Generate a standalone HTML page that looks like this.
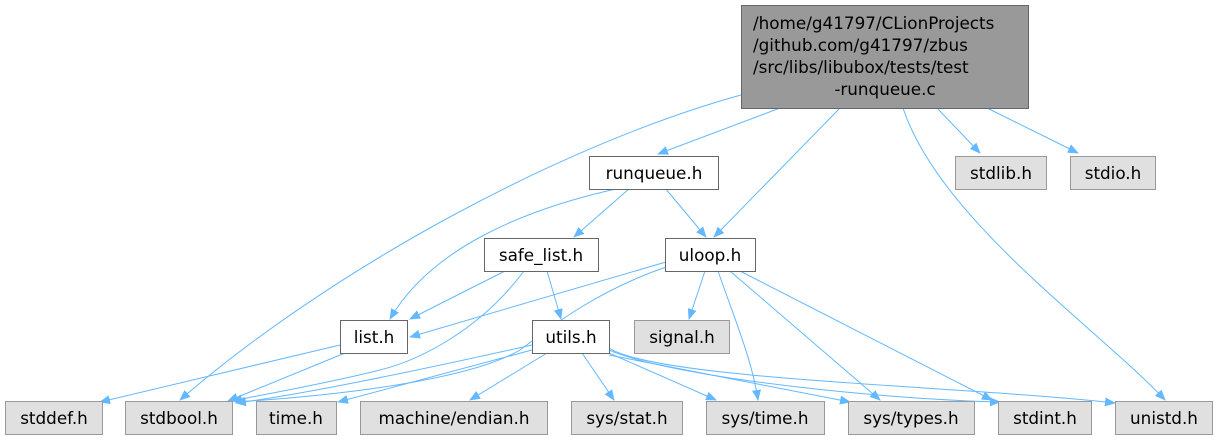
<!DOCTYPE html>
<html><head><meta charset="utf-8"><style>
html,body{margin:0;padding:0;background:#fff;}
svg text{font-family:"DejaVu Sans","Liberation Sans",sans-serif;font-size:16.8px;fill:#000;}
</style></head><body>
<svg width="1218" height="440" viewBox="0 0 1218 440" xmlns="http://www.w3.org/2000/svg">
<defs><marker id="a" markerWidth="11" markerHeight="9" refX="10" refY="4.5" orient="auto" markerUnits="userSpaceOnUse"><path d="M0,0 L11,4.5 L0,9 z" fill="#63b8ff"/></marker></defs>
<g fill="none" stroke="#63b8ff" stroke-width="1" marker-end="url(#a)">
<path d="M741,95 C560,145 330,270 180,400"/>
<path d="M780,108 L658,154"/>
<path d="M840,108 L714,237"/>
<path d="M903,108 C940,220 1100,330 1165,400"/>
<path d="M937,108 L980,153"/>
<path d="M987,108 L1078,153"/>
<path d="M620,188 C520,210 430,250 390,319"/>
<path d="M630,188 L574,237"/>
<path d="M665,188 L706,237"/>
<path d="M505,271 L410,319"/>
<path d="M524,271 C480,330 420,360 380,370 C320,385 260,395 232,401"/>
<path d="M547,271 L561,319"/>
<path d="M666,262 L410,337"/>
<path d="M666,267 C600,290 560,320 520,350 C460,385 300,398 235,402"/>
<path d="M705,271 L689,319"/>
<path d="M718,271 C735,320 752,360 758,400"/>
<path d="M730,271 L880,400"/>
<path d="M740,271 L992,400"/>
<path d="M340,345 L100,402"/>
<path d="M345,353 L228,401"/>
<path d="M532,345 C420,370 300,395 236,403"/>
<path d="M532,350 L338,402"/>
<path d="M547,353 L470,400"/>
<path d="M582,353 L614,400"/>
<path d="M609,353 L716,400"/>
<path d="M609,355 L850,402"/>
<path d="M609,350 C680,380 900,400 1000,402"/>
<path d="M609,348 C660,380 950,385 1115,403"/>
</g>
<g stroke-width="1">
<rect x="741.5" y="5.5" width="287" height="103" fill="#999" stroke="#666"/>
<rect x="589.5" y="156.5" width="129" height="33" fill="#fff" stroke="#666"/>
<rect x="955.5" y="156.5" width="91" height="33" fill="#e0e0e0" stroke="#999"/>
<rect x="1070.5" y="156.5" width="85" height="33" fill="#e0e0e0" stroke="#999"/>
<rect x="484.5" y="238.5" width="114" height="33" fill="#fff" stroke="#666"/>
<rect x="665.5" y="238.5" width="90" height="33" fill="#fff" stroke="#666"/>
<rect x="340.5" y="320.5" width="67" height="33" fill="#fff" stroke="#666"/>
<rect x="532.5" y="320.5" width="77" height="33" fill="#fff" stroke="#666"/>
<rect x="634.5" y="320.5" width="95" height="33" fill="#e0e0e0" stroke="#999"/>
<rect x="5.5" y="401.5" width="97" height="33" fill="#e0e0e0" stroke="#999"/>
<rect x="125.5" y="401.5" width="107" height="33" fill="#e0e0e0" stroke="#999"/>
<rect x="256.5" y="401.5" width="80" height="33" fill="#e0e0e0" stroke="#999"/>
<rect x="360.5" y="401.5" width="187" height="33" fill="#e0e0e0" stroke="#999"/>
<rect x="571.5" y="401.5" width="111" height="33" fill="#e0e0e0" stroke="#999"/>
<rect x="706.5" y="401.5" width="118" height="33" fill="#e0e0e0" stroke="#999"/>
<rect x="848.5" y="401.5" width="126" height="33" fill="#e0e0e0" stroke="#999"/>
<rect x="998.5" y="401.5" width="93" height="33" fill="#e0e0e0" stroke="#999"/>
<rect x="1115.5" y="401.5" width="97" height="33" fill="#e0e0e0" stroke="#999"/>
</g>
<text x="753" y="29">/home/g41797/CLionProjects</text>
<text x="753" y="51">/github.com/g41797/zbus</text>
<text x="753" y="73">/src/libs/libubox/tests/test</text>
<text x="885" y="95" text-anchor="middle">-runqueue.c</text>
<g text-anchor="middle">
<text x="654" y="179">runqueue.h</text>
<text x="1001" y="179">stdlib.h</text>
<text x="1113" y="179">stdio.h</text>
<text x="541" y="261">safe_list.h</text>
<text x="710" y="261">uloop.h</text>
<text x="374" y="343">list.h</text>
<text x="571" y="343">utils.h</text>
<text x="682" y="343">signal.h</text>
<text x="54" y="424">stddef.h</text>
<text x="179" y="424">stdbool.h</text>
<text x="296" y="424">time.h</text>
<text x="454" y="424">machine/endian.h</text>
<text x="627" y="424">sys/stat.h</text>
<text x="765" y="424">sys/time.h</text>
<text x="911" y="424">sys/types.h</text>
<text x="1045" y="424">stdint.h</text>
<text x="1164" y="424">unistd.h</text>
</g>
</svg>
</body></html>
